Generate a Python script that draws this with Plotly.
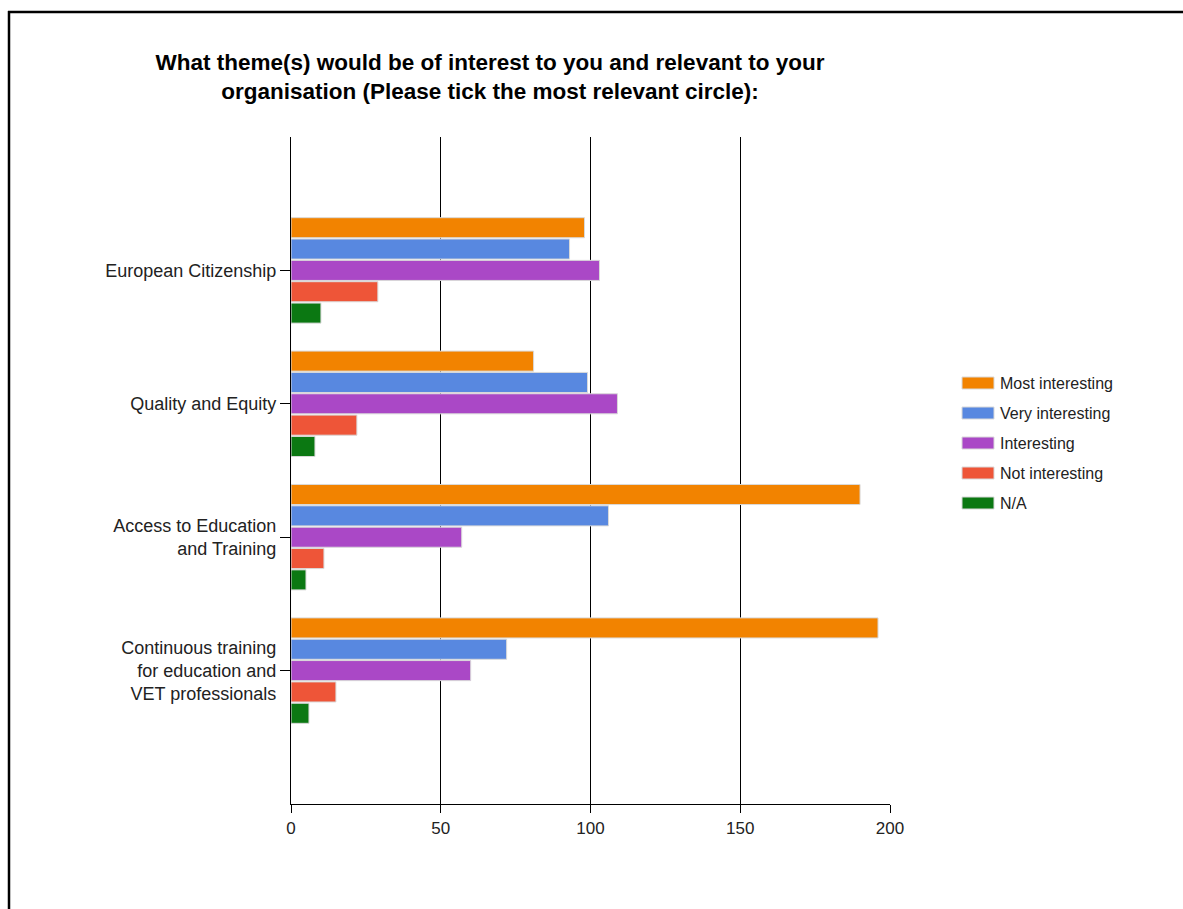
import plotly.graph_objects as go

# ---- data ----
categories = [
    "European Citizenship",
    "Quality and Equity",
    "Access to Education<br>and Training",
    "Continuous training<br>for education and<br>VET professionals",
]
series_names = ["Most interesting", "Very interesting", "Interesting", "Not interesting", "N/A"]
most_interesting = [98, 81, 190, 196]
very_interesting = [93, 99, 106, 72]
interesting = [103, 109, 57, 60]
not_interesting = [29, 22, 11, 15]
not_applicable = [10, 8, 5, 6]
x_ticks = [0, 50, 100, 150, 200]

series_values = [most_interesting, very_interesting, interesting, not_interesting, not_applicable]
colors = ["#F28300", "#5888E0", "#AA48C6", "#EE5538", "#0B7812"]

W, H = 1183, 909
ML, MR, MT, MB = 291, 293, 137, 105
PW = W - ML - MR
PH = H - MT - MB


def px2x(px):
    return (px - ML) / PW


def px2y(py):
    return (H - MB - py) / PH


fig = go.Figure()
for name, vals, col in zip(series_names, series_values, colors):
    fig.add_trace(go.Bar(
        x=vals, y=categories, orientation="h", name=name,
        marker=dict(color=col, line=dict(color="#d9d9d9", width=1)),
        showlegend=False,
    ))

shapes = []
# extra y-axis end ticks
for yp in (0, 1):
    shapes.append(dict(type="line", xref="x", xsizemode="pixel", xanchor=0,
                       x0=-11, x1=0, yref="paper", y0=yp, y1=yp,
                       line=dict(color="black", width=1.3)))
# frame (top + left)
shapes.append(dict(type="line", xref="paper", yref="paper",
                   x0=px2x(8), x1=px2x(1185), y0=px2y(12), y1=px2y(12),
                   line=dict(color="black", width=2.5)))
shapes.append(dict(type="line", xref="paper", yref="paper",
                   x0=px2x(9), x1=px2x(9), y0=px2y(11), y1=px2y(912),
                   line=dict(color="black", width=2.5)))

annotations = []
# custom legend
for i, (name, col) in enumerate(zip(series_names, colors)):
    yc = 383 + 30 * i
    shapes.append(dict(type="rect", xref="paper", yref="paper",
                       x0=px2x(962), x1=px2x(994), y0=px2y(yc - 6), y1=px2y(yc + 6),
                       fillcolor=col, line=dict(color="#d9d9d9", width=1)))
    annotations.append(dict(xref="paper", yref="paper", x=px2x(998), y=px2y(yc),
                            xanchor="left", yanchor="middle", text=name, showarrow=False,
                            font=dict(size=16, color="#222222", family="Liberation Sans, Arial")))

fig.update_layout(
    width=W, height=H,
    margin=dict(l=ML, r=MR, t=MT, b=MB),
    paper_bgcolor="white", plot_bgcolor="white",
    barmode="group", bargap=0.2, bargroupgap=0.06,
    font=dict(family="Liberation Sans, Arial", color="#222222"),
    title=dict(
        text="<b>What theme(s) would be of interest to you and relevant to your<br>organisation (Please tick the most relevant circle):</b>",
        x=490 / W, xanchor="center", xref="container",
        y=1 - 70 / H, yanchor="middle", yref="container",
        font=dict(size=22.5, color="black", family="Liberation Sans, Arial"),
    ),
    xaxis=dict(
        range=[0, 200], tickmode="array", tickvals=x_ticks,
        showgrid=True, gridcolor="black", gridwidth=1.3,
        showline=True, linecolor="black", linewidth=1.3,
        ticks="outside", ticklen=8, tickcolor="black", tickwidth=1.3,
        zeroline=False, tickfont=dict(size=17, color="#222222"),
    ),
    yaxis=dict(
        type="category", categoryorder="array", categoryarray=categories,
        range=[4, -1],
        showgrid=False, zeroline=False,
        showline=True, linecolor="black", linewidth=1.3,
        ticks="outside", ticklen=10, tickcolor="black", tickwidth=1.3,
        tickfont=dict(size=18, color="#222222"),
    ),
    shapes=shapes,
    annotations=annotations,
)

fig.write_html("out.html")
